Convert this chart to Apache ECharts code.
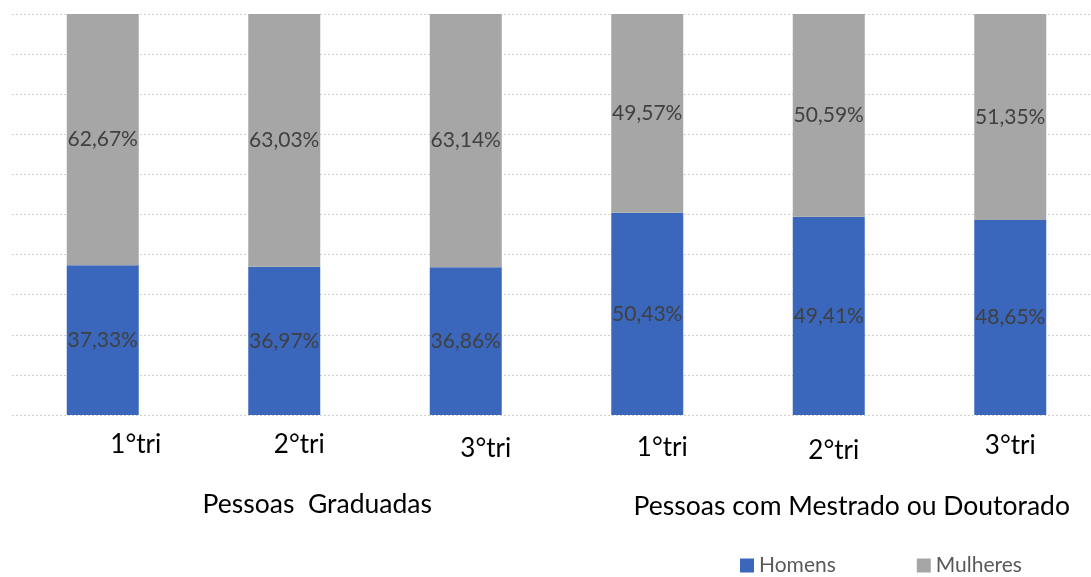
<!DOCTYPE html>
<html>
<head>
<meta charset="utf-8">
<script src="https://cdn.jsdelivr.net/npm/echarts@6/dist/echarts.min.js"></script>
<style>
  html, body { margin: 0; padding: 0; background: #ffffff; }
  #chart { width: 1091px; height: 577px; }
</style>
</head>
<body>
<div id="chart"></div>
<script>
// Quarter categories, two groups of three quarters each
const quarters = ['1°tri', '2°tri', '3°tri', '1°tri', '2°tri', '3°tri'];
const groupNames = ['Pessoas  Graduadas', 'Pessoas com Mestrado ou Doutorado'];
const seriesNames = ['Homens', 'Mulheres'];

// Share (%) of men and women per quarter
const homens = [37.33, 36.97, 36.86, 50.43, 49.41, 48.65];
const mulheres = [62.67, 63.03, 63.14, 49.57, 50.59, 51.35];

// Small per-label nudges [dx, dy] for the quarter and group labels
const quarterNudge = [[33, 1], [15, 1], [20, 5], [15, 4], [5, 7], [0, 2]];
const groupNudge = [[33, 0], [23, 2]];

const fmt = v => v.toFixed(2).replace('.', ',') + '%';

const chart = echarts.init(document.getElementById('chart'), null, { renderer: 'canvas' });

const baseFont = 'Lato, "Noto Sans", sans-serif';

const quarterData = quarters.map((q, i) => ({
  value: q,
  textStyle: { padding: [quarterNudge[i][1], 0, 0, quarterNudge[i][0] * 2] }
}));
const groupData = groupNames.map((g, i) => ({
  value: g,
  textStyle: { padding: [groupNudge[i][1], 0, 0, groupNudge[i][0] * 2] }
}));

const labelStyle = {
  show: true,
  position: 'inside',
  formatter: p => fmt(p.value),
  color: '#404040',
  fontFamily: baseFont,
  fontSize: 21
};

chart.setOption({
  animation: false,
  backgroundColor: '#ffffff',
  grid: {
    left: 12, width: 1089, top: 14, height: 401,
    containLabel: false,
    outerBoundsMode: 'none'
  },
  legend: {
    data: seriesNames,
    left: 740,
    top: 555,
    padding: 0,
    icon: 'rect',
    itemWidth: 14,
    itemHeight: 14,
    itemGap: 81,
    textStyle: { color: '#595959', fontFamily: baseFont, fontSize: 21 }
  },
  xAxis: [
    {
      type: 'category',
      data: quarterData,
      axisLine: { show: false },
      axisTick: { show: false },
      splitLine: { show: false },
      axisLabel: {
        margin: 16,
        color: '#000000',
        fontFamily: baseFont,
        fontSize: 26,
        interval: 0,
        hideOverlap: false
      }
    },
    {
      type: 'category',
      data: groupData,
      position: 'bottom',
      offset: 76,
      axisLine: { show: false },
      axisTick: { show: false },
      splitLine: { show: false },
      axisLabel: {
        margin: 0,
        color: '#000000',
        fontFamily: baseFont,
        fontSize: 26.5,
        interval: 0,
        hideOverlap: false
      }
    }
  ],
  yAxis: {
    type: 'value',
    min: 0,
    max: 100,
    interval: 10,
    axisLine: { show: false },
    axisTick: { show: false },
    axisLabel: { show: false },
    splitLine: {
      show: true,
      lineStyle: { color: '#d0d0d0', width: 1, type: [2, 2] }
    }
  },
  series: [
    {
      name: seriesNames[0],
      type: 'bar',
      stack: 'total',
      xAxisIndex: 0,
      barWidth: 72,
      data: homens,
      itemStyle: { color: '#3a67bc' },
      label: labelStyle
    },
    {
      name: seriesNames[1],
      type: 'bar',
      stack: 'total',
      xAxisIndex: 0,
      barWidth: 72,
      data: mulheres,
      itemStyle: { color: '#a6a6a6' },
      label: labelStyle
    }
  ]
});
</script>
</body>
</html>
